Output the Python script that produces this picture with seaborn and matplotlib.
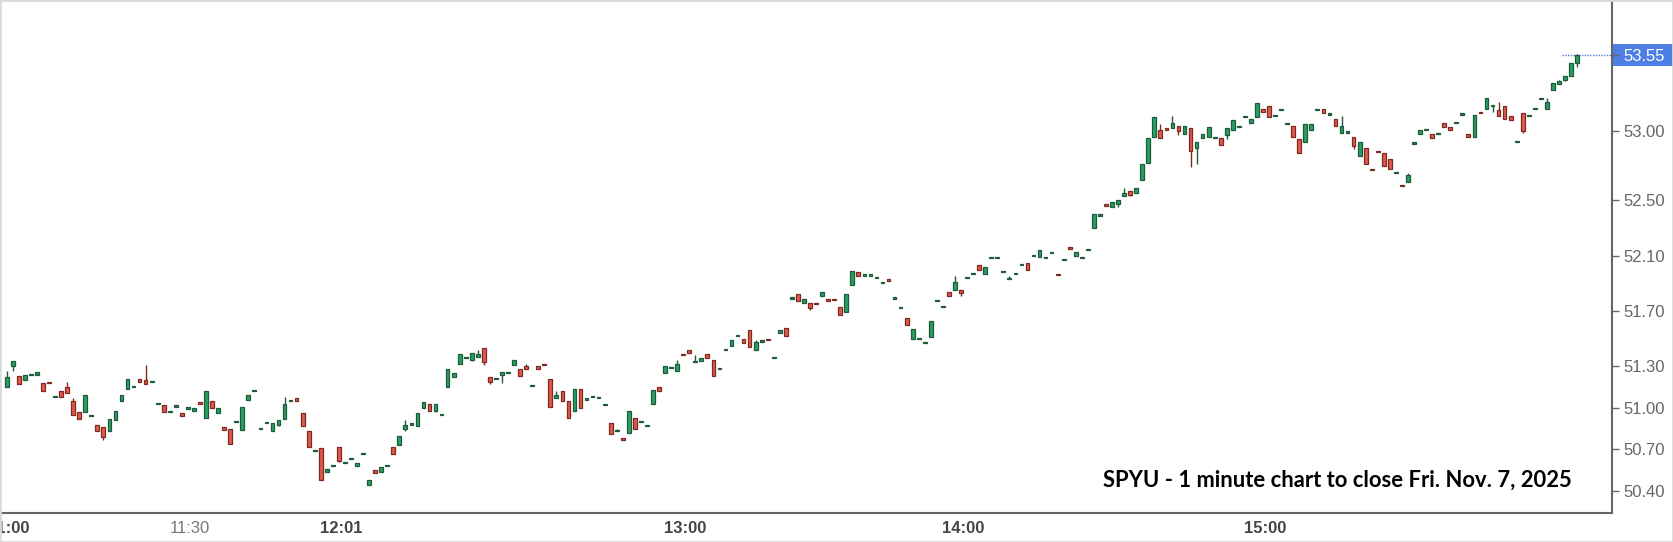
import numpy as np
import pandas as pd
import matplotlib
matplotlib.use("Agg")
import matplotlib.pyplot as plt
import seaborn as sns
from matplotlib.patches import Rectangle

# one-minute candles, in slot order (empty minutes are skipped by the chart)
opens = [
    51.15, 51.30, 51.23, 51.20, 51.24, 51.24, 51.18, 51.19, 51.08, 51.12,
    51.15, 51.05, 50.97, 50.97, 50.94, 50.88, 50.86, 50.83, 50.91, 51.05,
    51.14, 51.15, 51.21, 51.20, 51.19, 51.03, 51.02, 50.97, 51.01, 50.96,
    50.99, 50.98, 51.04, 50.93, 51.05, 50.96, 50.86, 50.85, 50.90, 50.84,
    51.06, 51.12, 50.85, 50.89, 50.83, 50.88, 50.92, 51.05, 51.07, 50.96,
    50.83, 50.69, 50.71, 50.54, 50.58, 50.72, 50.60, 50.63, 50.58, 50.67,
    50.44, 50.55, 50.54, 50.58, 50.72, 50.73, 50.85, 50.88, 50.87, 51.00,
    51.03, 50.98, 50.95, 51.15, 51.22, 51.32, 51.36, 51.35, 51.37, 51.43,
    51.22, 51.21, 51.24, 51.25, 51.31, 51.28, 51.30, 51.16, 51.30, 51.32,
    51.21, 51.07, 51.12, 51.05, 50.98, 51.14, 51.06, 51.08, 51.07, 51.02,
    50.89, 50.83, 50.78, 50.82, 50.93, 50.90, 50.87, 51.03, 51.15, 51.25,
    51.29, 51.27, 51.39, 51.42, 51.33, 51.34, 51.39, 51.35, 51.28, 51.42,
    51.45, 51.52, 51.50, 51.56, 51.42, 51.48, 51.50, 51.36, 51.54, 51.58,
    51.79, 51.82, 51.76, 51.76, 51.76, 51.81, 51.79, 51.79, 51.73, 51.69,
    51.89, 51.98, 51.95, 51.95, 51.94, 51.90, 51.93, 51.79, 51.72, 51.65,
    51.50, 51.50, 51.47, 51.51, 51.77, 51.73, 51.84, 51.85, 51.85, 51.94,
    51.97, 52.03, 51.97, 52.08, 52.08, 51.98, 51.93, 51.97, 52.03, 52.05,
    52.10, 52.09, 52.08, 52.12, 51.97, 52.07, 52.16, 52.10, 52.08, 52.14,
    52.30, 52.39, 52.47, 52.45, 52.47, 52.53, 52.57, 52.55, 52.65, 52.77,
    52.96, 53.01, 53.02, 53.02, 53.04, 52.98, 53.02, 52.88, 52.95, 52.96,
    52.95, 52.95, 52.97, 53.01, 53.03, 53.10, 53.06, 53.10, 53.16, 53.18,
    53.11, 53.15, 53.05, 53.04, 52.94, 52.92, 53.01, 53.15, 53.16, 53.12,
    53.09, 52.99, 52.99, 52.96, 52.82, 52.88, 52.73, 52.86, 52.84, 52.80,
    52.70, 52.61, 52.63, 52.91, 52.98, 53.01, 52.98, 52.98, 53.06, 53.03,
    53.06, 53.12, 52.98, 52.96, 53.14, 53.16, 53.18, 53.15, 53.18, 53.11,
    52.92, 53.13, 53.11, 53.16, 53.23, 53.16, 53.30, 53.34, 53.37, 53.40,
    53.49,
]
closes = [
    51.22, 51.34, 51.17, 51.24, 51.24, 51.26, 51.12, 51.18, 51.08, 51.08,
    51.11, 50.95, 50.92, 51.09, 50.94, 50.83, 50.79, 50.92, 50.98, 51.09,
    51.21, 51.15, 51.19, 51.17, 51.19, 51.03, 50.97, 50.97, 51.01, 50.94,
    51.01, 51.00, 51.03, 51.12, 51.00, 51.00, 50.84, 50.74, 50.90, 51.01,
    51.09, 51.12, 50.85, 50.89, 50.89, 50.91, 51.03, 51.05, 51.05, 50.87,
    50.72, 50.69, 50.48, 50.56, 50.58, 50.62, 50.60, 50.63, 50.60, 50.67,
    50.48, 50.53, 50.57, 50.58, 50.67, 50.80, 50.88, 50.88, 50.96, 51.04,
    50.98, 51.03, 50.95, 51.28, 51.25, 51.39, 51.36, 51.40, 51.39, 51.33,
    51.19, 51.21, 51.26, 51.25, 51.35, 51.23, 51.28, 51.16, 51.28, 51.31,
    51.01, 51.09, 51.05, 50.93, 51.14, 51.00, 51.07, 51.08, 51.07, 51.03,
    50.81, 50.83, 50.77, 50.98, 50.85, 50.90, 50.87, 51.13, 51.12, 51.30,
    51.29, 51.32, 51.38, 51.40, 51.33, 51.36, 51.36, 51.23, 51.28, 51.42,
    51.49, 51.52, 51.47, 51.44, 51.48, 51.48, 51.49, 51.36, 51.56, 51.52,
    51.79, 51.77, 51.79, 51.72, 51.75, 51.84, 51.77, 51.78, 51.67, 51.82,
    51.99, 51.95, 51.97, 51.97, 51.94, 51.90, 51.92, 51.79, 51.72, 51.60,
    51.57, 51.50, 51.47, 51.63, 51.77, 51.73, 51.81, 51.91, 51.83, 51.94,
    51.97, 52.00, 52.02, 52.08, 52.08, 51.98, 51.93, 51.97, 52.03, 52.00,
    52.10, 52.14, 52.08, 52.12, 51.96, 52.07, 52.15, 52.13, 52.08, 52.14,
    52.40, 52.39, 52.46, 52.49, 52.50, 52.55, 52.54, 52.59, 52.76, 52.95,
    53.10, 52.95, 53.01, 53.06, 53.00, 53.04, 52.86, 52.92, 52.98, 53.03,
    52.95, 52.90, 53.02, 53.08, 53.03, 53.10, 53.09, 53.20, 53.14, 53.10,
    53.11, 53.15, 53.05, 52.96, 52.84, 53.05, 53.05, 53.15, 53.13, 53.12,
    53.04, 53.04, 52.99, 52.89, 52.92, 52.76, 52.72, 52.85, 52.75, 52.73,
    52.70, 52.60, 52.68, 52.91, 53.01, 53.01, 52.95, 52.98, 53.03, 53.01,
    53.06, 53.12, 52.96, 53.12, 53.13, 53.24, 53.18, 53.11, 53.09, 53.08,
    52.92, 53.00, 53.11, 53.16, 53.23, 53.21, 53.35, 53.36, 53.40, 53.49,
    53.55,
]
# wicks that reach beyond the body, keyed by slot
high_wicks = {0: 51.27, 10: 51.19, 11: 51.07, 23: 51.31, 46: 51.08, 66: 50.91,
              78: 51.42, 86: 51.32, 91: 51.12, 101: 50.85, 111: 51.35, 114: 51.38,
              124: 51.49, 157: 51.95, 166: 51.95, 185: 52.59, 191: 53.05, 193: 53.11,
              221: 53.11, 232: 52.70, 247: 53.21, 255: 53.24, 257: 53.37, 260: 53.56}
low_wicks = {1: 51.27, 16: 50.77, 45: 50.87, 55: 50.61, 66: 50.83, 71: 50.97,
             77: 51.34, 79: 51.31, 80: 51.17, 82: 51.18, 133: 51.71, 158: 51.81,
             184: 52.45, 186: 52.53, 194: 52.97, 196: 52.74, 197: 52.76, 202: 52.94,
             223: 52.87, 246: 53.14, 251: 52.99, 258: 53.36, 260: 53.46}

tick_slots = [0.38, 30.3, 55.4, 82.3, 112.3, 134.5, 158.3, 180.3, 208.3, 234.2, 256.5]
tick_labels = ["11:00", "11:30", "12:01", "", "13:00", "", "14:00", "", "15:00", "", ""]
price_ticks = [50.40, 50.70, 51.00, 51.30, 51.70, 52.10, 52.50, 53.00, 53.55]
last_price = 53.55
note = "SPYU - 1 minute chart to close Fri. Nov. 7, 2025"

sns.set_style("white")
plt.rcParams["font.family"] = ["Liberation Sans", "DejaVu Sans"]

df = pd.DataFrame({"open": opens, "close": closes})
df["slot"] = np.arange(len(df))
df["high"] = df[["open", "close"]].max(axis=1)
df["low"] = df[["open", "close"]].min(axis=1)
for k, v in high_wicks.items():
    df.loc[k, "high"] = v
for k, v in low_wicks.items():
    df.loc[k, "low"] = v

up = df["close"] > df["open"]
flat = df["close"] == df["open"]
fill = np.where(up, "#27a061", "#e25a4c")
fill = np.where(flat, "#3d6e55", fill)
edge = np.where(df["close"] >= df["open"], "#1f5a3b", "#7c2a22")

W, H = 1673, 542
fig = plt.figure(figsize=(W / 100, H / 100), dpi=100)
ax = fig.add_axes([0, (H - 513) / H, 1612 / W, 511 / H])

ax.vlines(df["slot"], df["low"], df["high"], colors=edge, linewidth=1.0, zorder=2)
body = np.maximum((df["close"] - df["open"]).abs(), 0.008)
ax.bar(df["slot"], body, bottom=df[["open", "close"]].min(axis=1), width=0.62,
       color=fill, edgecolor=edge, linewidth=0.9, zorder=3)

ax.set_xlim(-1.11, 265.78)
ax.set_ylim(50.241, 53.933)

# last price marker
ax.axhline(last_price, xmin=1562 / 1612, xmax=1.0, color="#4a78e0",
           linestyle=(0, (1, 1)), linewidth=1, zorder=1)
ax.add_patch(Rectangle((1.0005, last_price - 0.083), 60 / 1612, 0.166,
                       transform=ax.get_yaxis_transform(), clip_on=False,
                       facecolor="#4f7ee6", edgecolor="none", zorder=0.2))

for side in ["left", "top"]:
    ax.spines[side].set_visible(False)
for side in ["right", "bottom"]:
    ax.spines[side].set_color("#666666")
    ax.spines[side].set_linewidth(1.5)

ax.yaxis.tick_right()
ax.set_yticks(price_ticks, labels=[f"{p:.2f}" for p in price_ticks])
ax.tick_params(axis="y", direction="out", length=5, width=1, color="#666666",
               labelcolor="#666666", labelsize=12, pad=3)
for lbl in ax.get_yticklabels():
    if lbl.get_text() == f"{last_price:.2f}":
        lbl.set_color("white")

ax.set_xticks(tick_slots, labels=tick_labels)
ax.tick_params(axis="x", direction="out", length=5, width=1, color="#666666",
               labelsize=12, pad=1)
for lbl in ax.get_xticklabels():
    lbl.set_family(["Liberation Sans Narrow", "Liberation Sans"])
    if lbl.get_text() == "11:30":
        lbl.set_color("#777777")
    else:
        lbl.set_color("#444444")
        lbl.set_fontweight("bold")

fig.text(1572 / W, 1 - 487 / H, note, ha="right", va="baseline", fontsize=15.8,
         fontweight="bold", family=["Lato", "DejaVu Sans"], color="black")

fig.add_artist(Rectangle((0, 0), 1, 1, transform=fig.transFigure, fill=False,
                         edgecolor="#dadada", linewidth=2))

fig.savefig("out.png", dpi=100)
